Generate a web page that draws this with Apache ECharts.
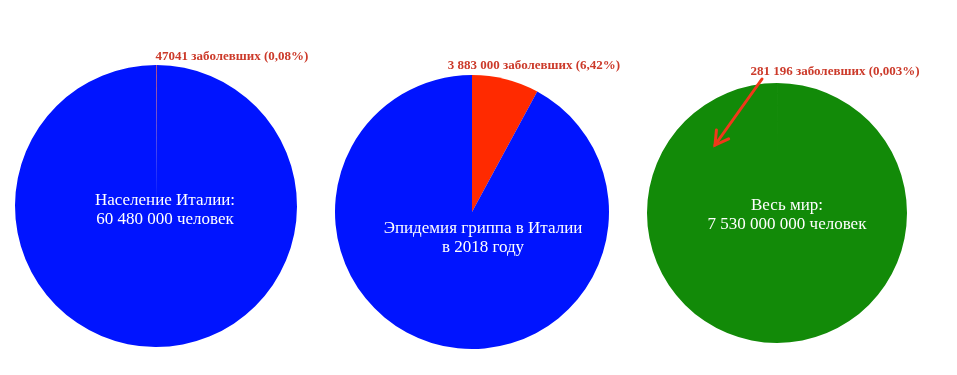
<!DOCTYPE html>
<html>
<head>
<meta charset="utf-8">
<script src="https://cdn.jsdelivr.net/npm/echarts@6/dist/echarts.min.js"></script>
<style>html,body{margin:0;padding:0;background:#fff}#c{width:957px;height:375px}</style>
</head>
<body>
<div id="c"></div>
<script>
// Data
const pieNames = ['Италия', 'Грипп 2018', 'Мир'];
const sickShare = [0.08, 7.9, 0.003];      // visible share of the red slice (%)
const restShare = [99.92, 92.1, 99.997];
const mainColors = ['#0014ff', '#0014ff', '#128a08'];
const innerTexts = [
  'Население Италии:\n60 480 000 человек',
  'Эпидемия гриппа в Италии\nв 2018 году',
  'Весь мир:\n7 530 000 000 человек'
];
const sickTexts = [
  '47041 заболевших (0,08%)',
  '3 883 000 заболевших (6,42%)',
  '281 196 заболевших (0,003%)'
];

// Layout
const centers = [[156, 206], [472, 212], [777, 213]];
const radii = [141, 137, 130];
const innerPos = [[165, 210], [483, 238], [787, 215]];
const sickPos = [[232, 57], [534, 66], [835, 72]];
const arrowFrom = [762, 79], arrowTo = [715, 145];

const series = pieNames.map((n, i) => ({
  type: 'pie',
  name: n,
  center: centers[i],
  radius: radii[i],
  startAngle: 90,
  clockwise: true,
  avoidLabelOverlap: false,
  label: { show: false },
  labelLine: { show: false },
  emphasis: { disabled: true },
  silent: true,
  itemStyle: { borderWidth: 0 },
  data: [
    { value: sickShare[i], name: 'заболевшие', itemStyle: { color: '#ff2a00' } },
    { value: restShare[i], name: 'остальные', itemStyle: { color: mainColors[i] } }
  ]
}));

const graphics = [];
innerTexts.forEach((t, i) => graphics.push({
  type: 'text', x: innerPos[i][0], y: innerPos[i][1], z: 10,
  style: { text: t, align: 'center', verticalAlign: 'middle', fill: '#ffffff',
    font: '17px "Liberation Serif", serif', lineHeight: 19 }
}));
sickTexts.forEach((t, i) => graphics.push({
  type: 'text', x: sickPos[i][0], y: sickPos[i][1], z: 10,
  style: { text: t, align: 'center', verticalAlign: 'middle', fill: '#cc3a2a',
    font: 'bold 13px "Liberation Serif", serif' }
}));
// arrow
const dx = arrowTo[0] - arrowFrom[0], dy = arrowTo[1] - arrowFrom[1];
const L = Math.hypot(dx, dy), ux = dx / L, uy = dy / L;
const wing = 15, a = Math.PI / 6;
function rot(x, y, ang) { return [x * Math.cos(ang) - y * Math.sin(ang), x * Math.sin(ang) + y * Math.cos(ang)]; }
const w1 = rot(-ux, -uy, a), w2 = rot(-ux, -uy, -a);
graphics.push({
  type: 'line', z: 10,
  shape: { x1: arrowFrom[0], y1: arrowFrom[1], x2: arrowTo[0], y2: arrowTo[1] },
  style: { stroke: '#f0381a', lineWidth: 3, lineCap: 'round' }
});
graphics.push({
  type: 'polyline', z: 10,
  shape: { points: [[arrowTo[0] + w1[0] * wing, arrowTo[1] + w1[1] * wing], arrowTo, [arrowTo[0] + w2[0] * wing, arrowTo[1] + w2[1] * wing]] },
  style: { stroke: '#f0381a', lineWidth: 3, lineCap: 'round', lineJoin: 'miter', fill: null }
});

const chart = echarts.init(document.getElementById('c'));
chart.setOption({
  animation: false,
  backgroundColor: '#ffffff',
  series: series,
  graphic: graphics
});
</script>
</body>
</html>
